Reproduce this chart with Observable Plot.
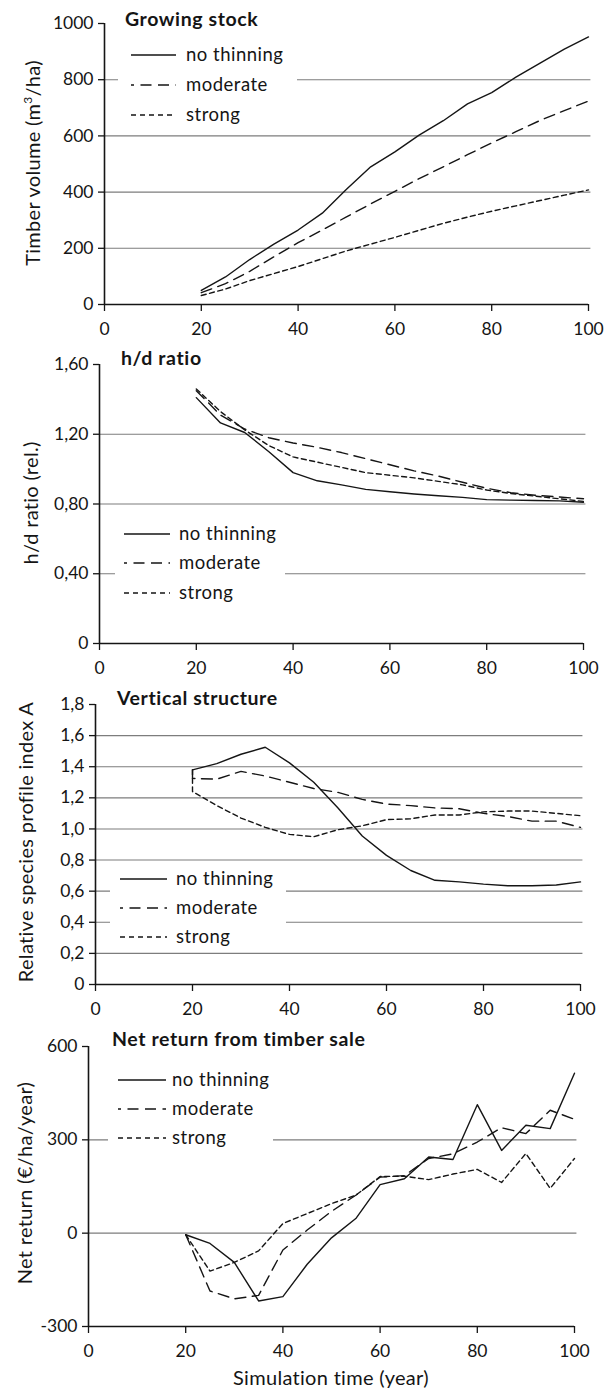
<!DOCTYPE html>
<html>
<head>
<meta charset="utf-8">
<script src="https://cdn.jsdelivr.net/npm/d3@7"></script>
<script src="https://cdn.jsdelivr.net/npm/@observablehq/plot@0.6"></script>
<style>
  html, body { margin: 0; padding: 0; background: #fff; }
  #root { position: relative; width: 605px; height: 1391px; overflow: hidden; font-family: Lato, "Noto Sans", sans-serif; color: #151515; }
  .abs { position: absolute; white-space: nowrap; }
  .title { font-weight: bold; font-size: 19.5px; letter-spacing: 0.6px; line-height: 24px; transform: translateY(-50%); }
  .ylab { font-size: 20px; letter-spacing: 0.3px; line-height: 24px; transform: translate(-50%, -50%) rotate(-90deg); }
  .legend { position: absolute; background: #fff; }
  .row { position: absolute; font-size: 18.5px; letter-spacing: 0.5px; line-height: 24px; white-space: nowrap; }
  svg.plot { position: absolute; left: 0; }
</style>
</head>
<body>
<div id="root"></div>
<script>
// ---------- data ----------
const years = [20, 25, 30, 35, 40, 45, 50, 55, 60, 65, 70, 75, 80, 85, 90, 95, 100];
const thinYears = [20, 20, 25, 30, 35, 40, 45, 50, 55, 60, 65, 70, 75, 80, 85, 90, 95, 100];
const seriesNames = ["no thinning", "moderate", "strong"];

// Growing stock (m3/ha)
const growNone     = [50, 98, 160, 215, 265, 325, 410, 490, 543, 603, 654, 714, 754, 809, 859, 909, 952];
const growModerate = [42, 74, 118, 170, 220, 265, 312, 358, 403, 448, 490, 533, 575, 615, 655, 690, 724];
const growStrong   = [32, 55, 85, 110, 135, 163, 191, 215, 239, 264, 289, 311, 332, 351, 370, 389, 408];

// h/d ratio
const hdNone     = [1.41, 1.265, 1.21, 1.10, 0.98, 0.933, 0.91, 0.884, 0.87, 0.857, 0.847, 0.838, 0.825, 0.822, 0.82, 0.818, 0.81];
const hdModerate = [1.45, 1.31, 1.23, 1.18, 1.15, 1.125, 1.095, 1.06, 1.025, 0.99, 0.96, 0.925, 0.89, 0.865, 0.85, 0.84, 0.83];
const hdStrong   = [1.46, 1.33, 1.225, 1.135, 1.07, 1.04, 1.01, 0.98, 0.965, 0.95, 0.93, 0.91, 0.88, 0.86, 0.845, 0.83, 0.815];

// Vertical structure (relative species profile index A)
const vsNone     = [1.38, 1.42, 1.48, 1.525, 1.425, 1.3, 1.135, 0.955, 0.83, 0.733, 0.67, 0.66, 0.645, 0.635, 0.635, 0.64, 0.66];
const vsModerate = [1.38, 1.325, 1.32, 1.37, 1.34, 1.30, 1.26, 1.235, 1.19, 1.16, 1.15, 1.135, 1.13, 1.10, 1.08, 1.05, 1.05, 1.01];
const vsStrong   = [1.38, 1.24, 1.15, 1.07, 1.01, 0.965, 0.95, 0.995, 1.02, 1.06, 1.065, 1.09, 1.09, 1.11, 1.115, 1.115, 1.10, 1.085];

// Net return (EUR/ha/year)
const netNone     = [-5, -33, -94, -218, -204, -100, -15, 47, 156, 175, 245, 237, 413, 266, 347, 336, 514];
const netModerate = [-5, -186, -211, -200, -54, 10, 70, 122, 180, 185, 240, 255, 293, 339, 320, 395, 366];
const netStrong   = [-5, -122, -94, -57, 31, 63, 95, 122, 182, 183, 172, 190, 205, 163, 256, 144, 240];

// tick values
const xTicks = [0, 20, 40, 60, 80, 100];
const growTicks = [0, 200, 400, 600, 800, 1000];
const hdTicks = [0, 0.4, 0.8, 1.2, 1.6];
const vsTicks = [0, 0.2, 0.4, 0.6, 0.8, 1.0, 1.2, 1.4, 1.6, 1.8];
const netTicks = [-300, 0, 300, 600];

// ---------- helpers ----------
const FONT = "Lato, 'Noto Sans', sans-serif";
const dashes = { "no thinning": null, "moderate": "11,6.5", "strong": "5,3.5" };
const root = document.getElementById("root");

function rows(xs, ys, name) {
  return ys.map((v, i) => ({ x: xs[i], y: v, s: name }));
}

function panel({ top, height, ml, mr, mt, mb, domain, ticks, grid, fmt, data }) {
  const lineMarks = seriesNames.map(n =>
    Plot.line(data.filter(d => d.s === n), {
      x: "x", y: "y", stroke: "#151515", strokeWidth: 1.4,
      strokeDasharray: dashes[n] ?? undefined, curve: "linear"
    })
  );
  const svg = Plot.plot({
    width: 605, height,
    marginLeft: ml, marginRight: mr, marginTop: mt, marginBottom: mb,
    x: { domain: [0, 100] },
    y: { domain },
    style: { fontFamily: FONT, fontSize: "17.5px", color: "#151515", background: "transparent", overflow: "visible" },
    marks: [
      Plot.ruleY(grid, { stroke: "#7d7d7d", strokeWidth: 1.1, x1: 0, x2: 100.5 }),
      Plot.ruleX([0], { stroke: "#151515", strokeWidth: 1.6 }),
      Plot.ruleY([domain[0]], { stroke: "#151515", strokeWidth: 1.6 }),
      Plot.axisX({ ticks: xTicks, tickSize: 7, tickPadding: 11, label: null, fontSize: 17.5, strokeWidth: 1.3, tickFormat: d => String(d) }),
      Plot.axisY({ ticks, tickSize: 6, tickPadding: 5, label: null, fontSize: 17.5, strokeWidth: 1.3, tickFormat: fmt }),
      ...lineMarks
    ]
  });
  svg.classList.add("plot");
  svg.style.top = top + "px";
  root.appendChild(svg);
}

function addText(cls, html, left, top) {
  const d = document.createElement("div");
  d.className = "abs " + cls;
  d.innerHTML = html;
  d.style.left = left + "px";
  d.style.top = top + "px";
  root.appendChild(d);
  return d;
}

function legend(box, lineX0, lineX1, textX, rowYs) {
  const lg = document.createElement("div");
  lg.className = "legend";
  lg.style.left = box[0] + "px"; lg.style.top = box[1] + "px";
  lg.style.width = box[2] + "px"; lg.style.height = box[3] + "px";
  root.appendChild(lg);
  seriesNames.forEach((n, i) => {
    const cy = rowYs[i];
    const s = document.createElementNS("http://www.w3.org/2000/svg", "svg");
    s.setAttribute("width", lineX1 - lineX0);
    s.setAttribute("height", 6);
    s.style.position = "absolute";
    s.style.left = (lineX0 - box[0]) + "px";
    s.style.top = (cy - box[1] - 3) + "px";
    const l = document.createElementNS("http://www.w3.org/2000/svg", "line");
    l.setAttribute("x1", 0); l.setAttribute("x2", lineX1 - lineX0);
    l.setAttribute("y1", 3); l.setAttribute("y2", 3);
    l.setAttribute("stroke", "#151515"); l.setAttribute("stroke-width", 1.4);
    if (n === "moderate") { l.setAttribute("stroke-dasharray", "11,6.5"); l.setAttribute("stroke-dashoffset", 8); }
    if (n === "strong") l.setAttribute("stroke-dasharray", "5,4");
    s.appendChild(l);
    lg.appendChild(s);
    const t = document.createElement("div");
    t.className = "row";
    t.textContent = n;
    t.style.left = (textX - box[0]) + "px";
    t.style.top = (cy - box[1] - 13) + "px";
    lg.appendChild(t);
  });
}

const commaFmt = digits => d => d === 0 ? "0" : d.toFixed(digits).replace(".", ",");

// ---------- panel 1: growing stock ----------
panel({
  top: 0, height: 345, ml: 104, mr: 17, mt: 23, mb: 41,
  domain: [0, 1000], ticks: growTicks, grid: [200, 400, 600, 800], fmt: d => String(d),
  data: [...rows(years, growNone, "no thinning"), ...rows(years, growModerate, "moderate"), ...rows(years, growStrong, "strong")]
});
// ---------- panel 2: h/d ratio ----------
panel({
  top: 340, height: 345, ml: 99, mr: 22, mt: 24, mb: 42,
  domain: [0, 1.6], ticks: hdTicks, grid: [0.4, 0.8, 1.2], fmt: commaFmt(2),
  data: [...rows(years, hdNone, "no thinning"), ...rows(years, hdModerate, "moderate"), ...rows(years, hdStrong, "strong")]
});
// ---------- panel 3: vertical structure ----------
panel({
  top: 680, height: 340, ml: 95, mr: 25, mt: 24, mb: 36,
  domain: [0, 1.8], ticks: vsTicks, grid: [0.2, 0.4, 0.6, 0.8, 1.0, 1.2, 1.4, 1.6], fmt: commaFmt(1),
  data: [...rows(years, vsNone, "no thinning"), ...rows(thinYears, vsModerate, "moderate"), ...rows(thinYears, vsStrong, "strong")]
});
// ---------- panel 4: net return ----------
panel({
  top: 1020, height: 371, ml: 88, mr: 31, mt: 26, mb: 65,
  domain: [-300, 600], ticks: netTicks, grid: [0, 300], fmt: d => String(d),
  data: [...rows(years, netNone, "no thinning"), ...rows(years, netModerate, "moderate"), ...rows(years, netStrong, "strong")]
});

// legends (white boxes interrupt gridlines as in original)
legend([118, 40, 179, 88], 131, 176, 186, [55, 85, 115]);
legend([115, 517, 170, 90], 124, 170, 179, [534, 563, 593]);
legend([110, 866, 176, 84], 120, 167, 176, [879, 908, 937]);
legend([108, 1066, 165, 86], 118, 166, 172, [1080, 1109, 1138]);

// titles (left, vertical center)
addText("title", "Growing stock", 125, 19);
addText("title", "h/d ratio", 121, 358);
addText("title", "Vertical structure", 117, 698);
addText("title", "Net return from timber sale", 112, 1039);

// y labels (center points)
addText("ylab", "Timber volume (m<sup style='font-size:12px;line-height:0'>3</sup>/ha)", 32, 163);
addText("ylab", "h/d ratio (rel.)", 30, 503);
addText("ylab", "Relative species profile index A", 25, 842);
addText("ylab", "Net return (€/ha/year)", 24, 1183);

// x label
const xl = addText("", "Simulation time (year)", 331, 1377);
xl.style.fontSize = "20px";
xl.style.letterSpacing = "0.3px";
xl.style.lineHeight = "24px";
xl.style.transform = "translate(-50%, -50%)";
</script>
</body>
</html>
